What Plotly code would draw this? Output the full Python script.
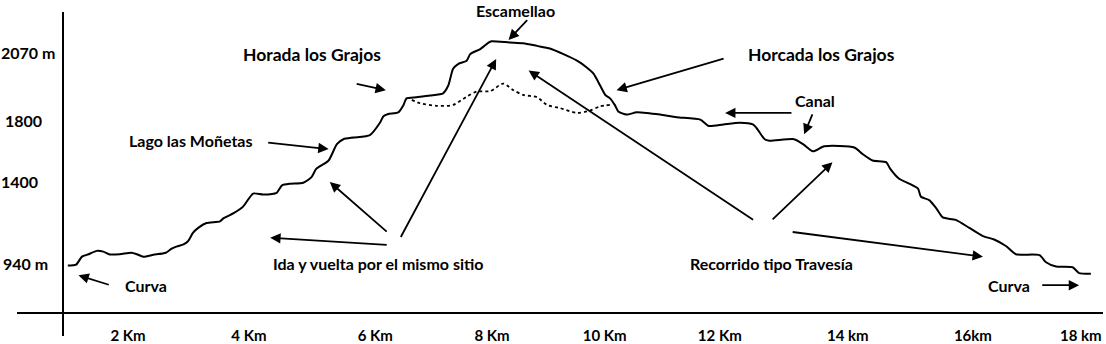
import plotly.graph_objects as go

# ---------------- data ----------------
# main route profile (distance km, elevation m, schematic)
dist_km = [0.87, 1.01, 1.11, 1.22, 1.36, 1.47, 1.58, 1.75, 1.95, 2.04, 2.15, 2.32, 2.53, 2.63,
           2.72, 2.83, 2.91, 2.99, 3.08, 3.22, 3.45, 3.51, 3.68, 3.84, 4.01, 4.18, 4.41, 4.50,
           4.64, 4.86, 5.00, 5.08, 5.29, 5.43, 5.54, 5.71, 5.99, 6.16, 6.22, 6.30, 6.47, 6.56,
           6.61, 6.78, 7.01, 7.23, 7.32, 7.40, 7.49, 7.63, 7.69, 7.86, 8.00, 8.05, 8.36, 8.59,
           8.82, 9.04, 9.27, 9.50, 9.66, 9.78, 9.89, 9.98, 10.06, 10.14, 10.20, 10.34, 10.51,
           10.68, 10.91, 11.19, 11.59, 11.73, 11.98, 12.26, 12.48, 12.56, 12.68, 12.76, 13.18,
           13.33, 13.50, 13.69, 14.20, 14.34, 14.51, 14.74, 14.81, 14.96, 15.13, 15.28, 15.33,
           15.47, 15.59, 15.70, 15.92, 16.15, 16.38, 16.57, 16.77, 16.94, 17.34, 17.45, 17.62,
           17.90, 18.01, 18.21]
elev_m = [933, 938, 981, 994, 1012, 1008, 993, 994, 1002, 994, 981, 991, 1002, 1024,
          1036, 1047, 1065, 1108, 1135, 1161, 1170, 1187, 1214, 1249, 1319, 1314, 1323, 1363,
          1372, 1377, 1407, 1451, 1496, 1584, 1610, 1619, 1632, 1698, 1733, 1745, 1754, 1794,
          1829, 1835, 1844, 1856, 1899, 1987, 2014, 2031, 2066, 2093, 2128, 2135, 2128, 2124,
          2110, 2096, 2066, 2031, 1996, 1961, 1899, 1847, 1829, 1794, 1759, 1742, 1754,
          1751, 1742, 1728, 1715, 1681, 1689, 1698, 1689, 1663, 1610, 1602, 1610,
          1584, 1545, 1572, 1566, 1531, 1496, 1487, 1451, 1398, 1372, 1345, 1302,
          1284, 1240, 1191, 1178, 1135, 1091, 1073, 1038, 994, 989, 951, 928,
          924, 893, 889]

# alternative (dotted) path
alt_km = [6.70, 6.84, 7.12, 7.40, 7.63, 7.80, 8.03, 8.25, 8.42, 8.59, 8.82, 8.99, 9.21,
          9.50, 9.72, 9.89, 10.06]
alt_m = [1821, 1803, 1789, 1794, 1838, 1865, 1868, 1908, 1873, 1847, 1835, 1794, 1777,
         1751, 1763, 1786, 1794]

# x tick labels
x_tick_pos = [1.89, 3.94, 6.08, 8.06, 9.97, 11.92, 14.09, 16.21, 18.04]
x_tick_text = ["2 Km", "4 Km", "6 Km", "8 Km", "10 Km", "12 Km", "14 km", "16km", "18 km"]

# y labels
y_label_text = ["2070 m", "1800", "1400", "940 m"]
y_label_pos = [2075, 1708, 1381, 942]
y_label_x = [0.203, 0.127, 0.059, 0.144]

# text labels (text, km, elevation, font size)
label_text = ["Horada los Grajos", "Horcada los Grajos", "Lago las Moñetas", "Canal",
              "Ida y vuelta por el mismo sitio", "Recorrido tipo Travesía", "Curva", "Curva"]
label_km = [5.01, 13.65, 2.96, 13.53, 6.13, 12.79, 2.19, 16.82]
label_m = [2066, 2066, 1603, 1819, 945, 945, 829, 829]
label_size = [17.5, 17.5, 16, 16, 16, 16, 16, 16]

summit_text = "Escamellao"
summit_km = 8.45
summit_paper_y = 1.0

# arrows: tail (km, m) -> head (km, m)
arrow_tail_km = [1.59, 6.30, 6.30, 6.50, 12.51, 12.79, 13.13, 5.74, 12.01, 8.68, 4.24, 13.16, 13.50, 17.36]
arrow_tail_m = [828, 1044, 1108, 1078, 1173, 1173, 1114, 1908, 2044, 2256, 1593, 1751, 1751, 828]
arrow_head_km = [1.05, 4.30, 5.31, 8.13, 8.68, 13.83, 16.38, 6.26, 10.17, 8.34, 5.29, 12.01, 13.35, 18.01]
arrow_head_m = [881, 1082, 1381, 2040, 1978, 1487, 981, 1872, 1873, 2142, 1557, 1751, 1636, 828]

FONT = "Lato"
W, H = 1106, 344

fig = go.Figure()
fig.add_trace(go.Scatter(x=dist_km, y=elev_m, mode="lines",
                         line=dict(color="black", width=2, shape="spline", smoothing=0.6),
                         hoverinfo="skip", showlegend=False))
fig.add_trace(go.Scatter(x=alt_km, y=alt_m, mode="lines",
                         line=dict(color="black", width=1.8, dash="dot", shape="spline", smoothing=0.8),
                         hoverinfo="skip", showlegend=False))

annotations = []
for t, xk, ym, s in zip(label_text, label_km, label_m, label_size):
    annotations.append(dict(x=xk, y=ym, xref="x", yref="y", text=t, showarrow=False,
                            font=dict(family=FONT, size=s, color="black", weight="bold"),
                            xanchor="center", yanchor="middle"))
annotations.append(dict(x=summit_km, y=summit_paper_y, xref="x", yref="paper", text=summit_text,
                        showarrow=False, font=dict(family=FONT, size=16, color="black", weight="bold"),
                        xanchor="center", yanchor="top", borderpad=0))
for t, ym, xk in zip(y_label_text, y_label_pos, y_label_x):
    annotations.append(dict(x=xk, y=ym, xref="x", yref="y", text=t, showarrow=False,
                            font=dict(family=FONT, size=16, color="black", weight="bold"),
                            xanchor="center", yanchor="middle"))
for tx, ty, hx, hy in zip(arrow_tail_km, arrow_tail_m, arrow_head_km, arrow_head_m):
    annotations.append(dict(x=hx, y=hy, ax=tx, ay=ty, xref="x", yref="y", axref="x", ayref="y",
                            text="", showarrow=True, arrowhead=2, arrowsize=1.15, arrowwidth=1.8,
                            arrowcolor="black", standoff=0, startstandoff=0))

# axis geometry (pixel placement of the hand-drawn axes)
x_left_px, x_right_px, x_line_px = 17, 1103, 319
y_top_px, y_bot_px, y_line_px = 12, 342, 63
km0_px, px_per_km = 16.5, 59.0
m0_px, px_per_m = 269.0, 0.19

x_range = [(x_left_px - km0_px) / px_per_km, (x_right_px - km0_px) / px_per_km]
y_range = [940 + (m0_px - y_bot_px) / px_per_m, 940 + (m0_px - y_top_px) / px_per_m]

fig.update_layout(
    width=W, height=H,
    margin=dict(l=0, r=0, t=0, b=0),
    paper_bgcolor="white", plot_bgcolor="white",
    showlegend=False,
    annotations=annotations,
    xaxis=dict(domain=[x_left_px / W, x_right_px / W], range=x_range,
               anchor="free", position=(H - x_line_px) / H,
               showline=True, linecolor="black", linewidth=1.5,
               showgrid=False, zeroline=False, ticks="",
               tickmode="array", tickvals=x_tick_pos, ticktext=x_tick_text,
               tickfont=dict(family=FONT, size=15, color="black", weight="bold"),
               ticklabelstandoff=9),
    yaxis=dict(domain=[(H - y_bot_px) / H, (H - y_top_px) / H], range=y_range,
               anchor="free", position=y_line_px / W,
               showline=True, linecolor="black", linewidth=1.5,
               showgrid=False, zeroline=False, ticks="", showticklabels=False),
)

fig.write_html("out.html")
